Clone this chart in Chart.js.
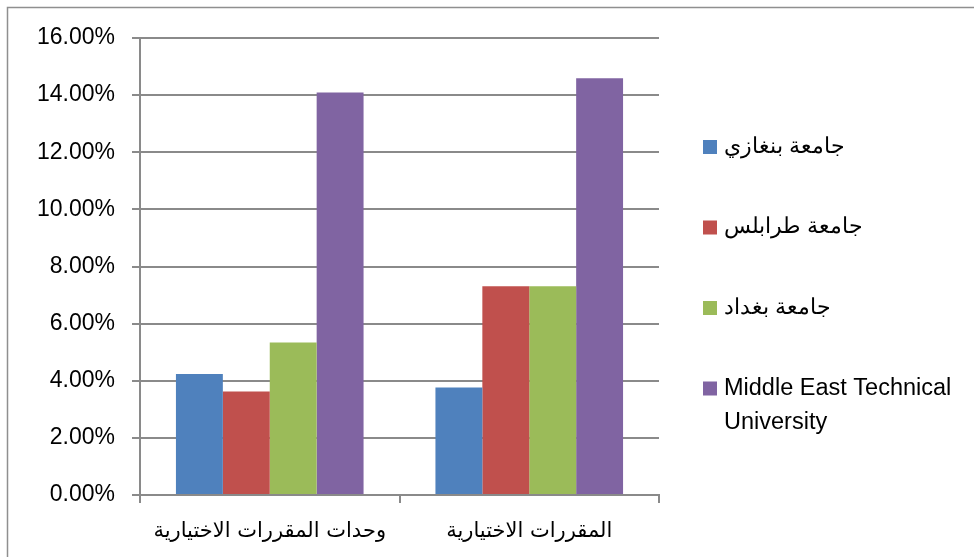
<!DOCTYPE html>
<html lang="ar">
<head>
    <meta charset="UTF-8">
    <title>المقررات الاختيارية</title>
    <script src="https://cdnjs.cloudflare.com/ajax/libs/Chart.js/4.4.0/chart.umd.min.js"></script>
    <style>
        html, body {
            margin: 0;
            padding: 0;
            background: #fff;
        }
        #wrap {
            width: 974px;
            height: 557px;
        }
    </style>
</head>
<body>
    <div id="wrap"><canvas id="chart" width="974" height="557"></canvas></div>

    <script>
        // categories (x axis) and series, values in percent
        const categories = ['وحدات المقررات الاختيارية', 'المقررات الاختيارية'];
        const seriesNames = ['جامعة بنغازي', ' جامعة طرابلس', 'جامعة بغداد', 'Middle East Technical University'];
        const benghazi = [4.24, 3.76];
        const tripoli = [3.62, 7.31];
        const baghdad = [5.34, 7.31];
        const metu = [14.09, 14.59];
        const seriesColors = ['#4F81BD', '#C0504D', '#9BBB59', '#8064A2'];

        const gridColor = '#8a8a8a';
        const textFont = 'Liberation Sans, Arial, sans-serif';

        // grey frame round the whole chart
        const framePlugin = {
            id: 'frame',
            beforeDraw(chart) {
                const ctx = chart.ctx;
                ctx.save();
                ctx.fillStyle = '#fff';
                ctx.fillRect(0, 0, chart.width, chart.height);
                ctx.strokeStyle = '#8f8f8f';
                ctx.lineWidth = 1.5;
                ctx.strokeRect(7.5, 7.5, chart.width + 20, chart.height + 20);
                ctx.restore();
            }
        };

        // legend on the right, one entry every 80px, long names wrapped
        const sideLegend = {
            id: 'sideLegend',
            afterDraw(chart, args, opts) {
                const ctx = chart.ctx;
                ctx.save();
                ctx.textBaseline = 'middle';
                ctx.textAlign = 'left';
                chart.data.datasets.forEach((ds, i) => {
                    const y = opts.top + i * opts.step;
                    ctx.fillStyle = ds.backgroundColor;
                    ctx.fillRect(opts.x, y - 7, 14, 14);
                    ctx.fillStyle = '#000';
                    // arabic glyphs come out wider, so a smaller size for them
                    const arabic = /[\u0600-\u06FF]/.test(ds.label);
                    ctx.font = (arabic ? opts.arabicSize : opts.fontSize) + 'px ' + textFont;
                    // simple word wrap
                    const words = ds.label.split(' ');
                    let line = '';
                    let lines = [];
                    words.forEach(w => {
                        const test = line ? line + ' ' + w : w;
                        if (line && ctx.measureText(test).width > opts.maxWidth) {
                            lines.push(line);
                            line = w;
                        } else {
                            line = test;
                        }
                    });
                    lines.push(line);
                    lines.forEach((l, j) => {
                        ctx.fillText(l, opts.x + 21, y + j * 34);
                    });
                });
                ctx.restore();
            }
        };

        const data = [benghazi, tripoli, baghdad, metu];

        new Chart(document.getElementById('chart'), {
            type: 'bar',
            data: {
                labels: categories,
                datasets: seriesNames.map((name, i) => ({
                    label: name,
                    data: data[i],
                    backgroundColor: seriesColors[i],
                    borderWidth: 0,
                    categoryPercentage: 0.723,
                    barPercentage: 1.0
                }))
            },
            options: {
                responsive: false,
                animation: false,
                devicePixelRatio: 1,
                layout: {
                    padding: { left: 0, top: 38, right: 315, bottom: 0 }
                },
                plugins: {
                    legend: { display: false },
                    tooltip: { enabled: false },
                    sideLegend: { x: 703, top: 147, step: 80.5, fontSize: 23.5, arabicSize: 21.5, maxWidth: 245 }
                },
                scales: {
                    x: {
                        grid: {
                            drawOnChartArea: false,
                            drawTicks: true,
                            tickLength: 8,
                            color: gridColor,
                            lineWidth: 2
                        },
                        border: { color: gridColor, width: 2 },
                        ticks: {
                            color: '#000',
                            padding: 16,
                            font: { family: 'DejaVu Sans', size: 21 }
                        },
                        afterFit(scale) { scale.height = 62; }
                    },
                    y: {
                        min: 0,
                        max: 16,
                        ticks: {
                            stepSize: 2,
                            color: '#000',
                            padding: 17,
                            font: { family: textFont, size: 23 },
                            callback: v => v.toFixed(2) + '%'
                        },
                        grid: {
                            color: gridColor,
                            lineWidth: 2,
                            tickLength: 8
                        },
                        border: { color: gridColor, width: 2 },
                        afterFit(scale) { scale.width = 140; }
                    }
                }
            },
            plugins: [framePlugin, sideLegend]
        });
    </script>
</body>
</html>
